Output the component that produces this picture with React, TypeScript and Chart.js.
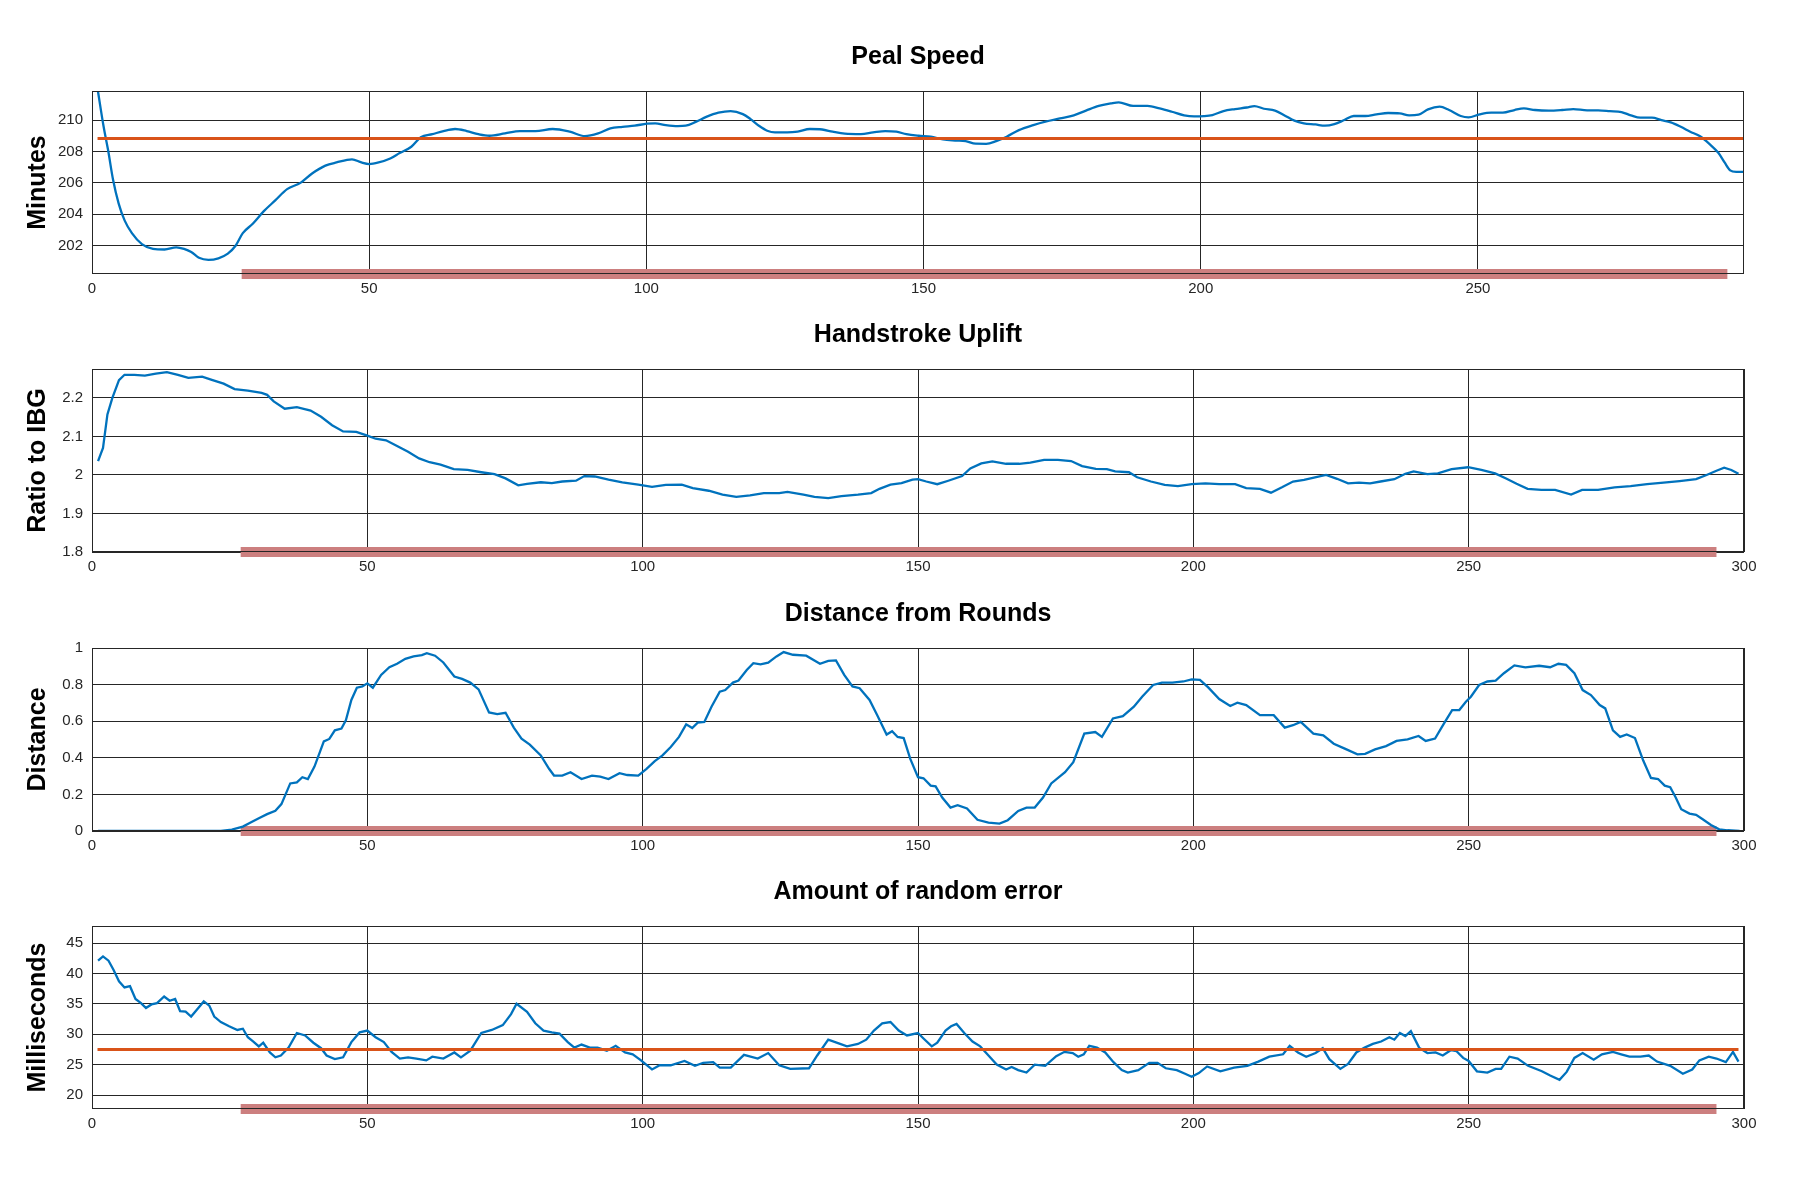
import { useEffect, useRef } from "react"
import { Chart, registerables } from "chart.js"

Chart.register(...registerables)

const FONT = "'Liberation Sans', Arial, Helvetica, sans-serif"
const GRID = "#262626"
const BLUE = "#0072BD"
const ORANGE = "#D95319"
const BAND = "#cc7f7f"

// run of the peal that the band marks
const bandStart = 27
const bandEnd = 295

const pealXTicks = [0, 50, 100, 150, 200, 250]
const xTicks = [0, 50, 100, 150, 200, 250, 300]
const pealYTicks = [202, 204, 206, 208, 210]
const upliftYTicks = [1.8, 1.9, 2, 2.1, 2.2]
const distYTicks = [0, 0.2, 0.4, 0.6, 0.8, 1]
const errorYTicks = [20, 25, 30, 35, 40, 45]

// Peal Speed
const pealX = [
  1, 2.1, 2.9, 3.8, 4.8, 5.9, 7.2, 9, 11, 13.1, 15.2, 16.6, 17.9, 19.3, 21, 22.8, 24.5, 25.9,
  27.2, 29, 31, 33.1, 35.2, 37.6, 39.7, 42.1, 44.1, 46.9, 48.6, 50, 51.7, 53.8, 55.5, 57.6,
  59.3, 61.4, 63.4, 65.5, 67.6, 69.7, 71.7, 74.5, 77.2, 80, 83.1, 86.2, 88.9, 91.3, 93.5,
  95.7, 97.9, 100.1, 101.6, 103.5, 105.7, 107.1, 109, 110.8, 113, 115.2, 117.4, 118.8, 120.3,
  121.8, 123.2, 125.4, 127.3, 129.5, 131.7, 133.6, 135.8, 138.7, 140.9, 143.1, 145.1, 146.9,
  149.1, 151.3, 153.5, 155.7, 157.6, 159.4, 161.3, 163.1, 165, 167.2, 169.8, 172, 174.6,
  177.1, 179.3, 181.6, 183.8, 185.2, 187.8, 190.4, 192.6, 194.8, 197, 198.8, 200.6, 202.1,
  204.1, 206.2, 208.3, 209.7, 211.4, 213.4, 215.2, 216.9, 218.6, 220.7, 222.4, 224.1, 225.9,
  227.6, 229.7, 231.7, 233.8, 235.9, 237.6, 239.3, 241, 243.1, 244.8, 246.9, 248.3, 250.3,
  252.4, 254.5, 256.6, 258.3, 260.3, 262.8, 265.2, 267.2, 269.7, 271.7, 273.8, 275.9, 277.6,
  279.3, 281.4, 283.1, 284.8, 286.6, 288.3, 290, 291.7, 293.4, 294.5, 295.5, 296.6, 297.9
]
const pealY = [
  212.0, 209.57, 208.09, 206.2, 204.7, 203.6, 202.8, 202.1, 201.8, 201.76, 201.9, 201.8,
  201.6, 201.23, 201.1, 201.2, 201.5, 202.0, 202.8, 203.4, 204.2, 204.9, 205.6, 206.0, 206.6,
  207.1, 207.3, 207.5, 207.3, 207.2, 207.3, 207.55, 207.9, 208.3, 208.9, 209.1, 209.3, 209.43,
  209.3, 209.1, 209.0, 209.15, 209.3, 209.3, 209.43, 209.26, 208.98, 209.15, 209.47, 209.57,
  209.64, 209.77, 209.79, 209.68, 209.62, 209.64, 209.9, 210.2, 210.47, 210.57, 210.38,
  210.06, 209.64, 209.32, 209.21, 209.21, 209.26, 209.43, 209.4, 209.26, 209.13, 209.1,
  209.21, 209.3, 209.26, 209.1, 209.0, 208.94, 208.77, 208.7, 208.66, 208.5, 208.49, 208.66,
  208.94, 209.36, 209.68, 209.9, 210.1, 210.3, 210.6, 210.9, 211.06, 211.13, 210.9, 210.9,
  210.74, 210.53, 210.3, 210.23, 210.25, 210.32, 210.57, 210.7, 210.8, 210.89, 210.72, 210.6,
  210.28, 209.96, 209.79, 209.72, 209.64, 209.74, 210.0, 210.26, 210.26, 210.36, 210.45,
  210.43, 210.3, 210.34, 210.68, 210.85, 210.64, 210.26, 210.17, 210.36, 210.47, 210.47,
  210.64, 210.74, 210.64, 210.6, 210.64, 210.7, 210.62, 210.62, 210.57, 210.51, 210.3, 210.15,
  210.15, 210.0, 209.85, 209.57, 209.26, 208.98, 208.5, 207.9, 207.3, 206.8, 206.7, 206.7
]
const pealMean = 208.83

// Handstroke Uplift
const upliftX = [
  1.1, 2, 2.8, 3.7, 4.9, 5.9, 7.7, 9.6, 11.6, 13.6, 15.6, 17.5, 20, 21.9, 23.9, 25.9, 28.3,
  30.8, 31.8, 33, 35, 37.2, 39.7, 41.6, 43.6, 45.6, 48, 50, 51.5, 53.4, 55.4, 57.4, 59.4, 61.3,
  63.3, 65.7, 68.2, 70.7, 73.1, 75.1, 77.4, 79, 81.5, 83.5, 85.4, 87.9, 89.4, 91.3, 93.8, 96.3,
  99.2, 101.7, 104.2, 107.1, 109.1, 112, 114.5, 117, 119.5, 122, 124.8, 126.3, 129.2, 131.2,
  133.7, 136.1, 139.1, 141.5, 143, 145, 147, 149, 150, 151.5, 153.5, 155.5, 158, 159.5, 161.5,
  163.5, 166, 168.4, 170.4, 172.9, 175.4, 177.8, 179.8, 182.3, 184.3, 185.8, 188.3, 189.8,
  192.3, 194.8, 197.2, 199.7, 202.2, 204.7, 207.6, 209.6, 212.1, 214.1, 216.1, 218.1, 220.1,
  222.1, 224.1, 226.1, 228.1, 230.1, 232.1, 234, 236.5, 238.5, 240, 242.5, 244.4, 246.9, 249.9,
  252.3, 254.8, 256.8, 258.7, 260.7, 263.2, 265.7, 268.6, 270.6, 273.5, 276.5, 279.4, 282.4,
  285.4, 288.3, 291.3, 293.2, 295, 296.4, 297.7, 299
]
const upliftY = [
  2.036, 2.07, 2.157, 2.2, 2.246, 2.26, 2.26, 2.258, 2.263, 2.267, 2.26, 2.252, 2.255, 2.246,
  2.237, 2.223, 2.219, 2.213, 2.208, 2.191, 2.172, 2.176, 2.167, 2.151, 2.129, 2.113, 2.112,
  2.102, 2.094, 2.09, 2.075, 2.06, 2.043, 2.033, 2.027, 2.015, 2.013, 2.007, 2.002, 1.991,
  1.973, 1.977, 1.981, 1.979, 1.983, 1.985, 1.997, 1.996, 1.988, 1.981, 1.975, 1.969, 1.974,
  1.975, 1.966, 1.959, 1.949, 1.943, 1.947, 1.953, 1.953, 1.956, 1.949, 1.943, 1.94, 1.945,
  1.949, 1.953, 1.964, 1.975, 1.979, 1.988, 1.989, 1.983, 1.976, 1.985, 1.997, 2.017, 2.03,
  2.035, 2.029, 2.029, 2.032, 2.039, 2.039, 2.036, 2.023, 2.016, 2.015, 2.009, 2.007, 1.994,
  1.983, 1.974, 1.971, 1.976, 1.978, 1.976, 1.976, 1.966, 1.964, 1.954, 1.968, 1.983, 1.987,
  1.994, 2.0, 1.99, 1.978, 1.98, 1.978, 1.983, 1.989, 2.003, 2.009, 2.002, 2.004, 2.015, 2.02,
  2.013, 2.004, 1.991, 1.977, 1.964, 1.961, 1.961, 1.949, 1.961, 1.961, 1.968, 1.971, 1.976,
  1.98, 1.984, 1.989, 2.0, 2.011, 2.019, 2.013, 2.003
]

// Distance from Rounds
const distX = [
  1.1, 23.4, 25.4, 27.4, 28.8, 30.3, 31.8, 33.3, 34.4, 36, 37.2, 38.2, 39.2, 40.4, 42.1, 43.1,
  44.1, 45.3, 46.1, 47.1, 48.1, 49.1, 50, 51, 52.5, 54, 55.4, 56.9, 58.4, 59.9, 60.8, 62.3,
  63.8, 65.8, 67.2, 68.7, 70.2, 72.1, 73.6, 75.1, 76.6, 78, 79.5, 81.5, 83, 83.9, 85.4, 86.9,
  88.9, 90.8, 92.3, 93.8, 95.8, 97.2, 99.2, 100.7, 102.2, 103.6, 105.1, 106.6, 107.9, 109, 110,
  111.2, 112.5, 114, 115, 116.4, 117.4, 118.9, 120.1, 121.4, 122.8, 124.3, 125.6, 127.3, 129.7,
  132.2, 133.7, 135.1, 136.6, 138.1, 139.4, 141.2, 142.6, 144.3, 145.3, 146.3, 147.4, 148.6,
  150, 151, 152.3, 153.2, 154.4, 155.9, 157.2, 158.9, 160.8, 162.8, 164.8, 166.3, 168.2, 169.7,
  171.2, 172.7, 174.2, 176.7, 178.2, 180.2, 182.2, 183.4, 185.4, 187.2, 189.2, 190.7, 192.7,
  194.3, 196.2, 198.2, 199.7, 201.2, 202.7, 204.7, 206.7, 208, 209.6, 212.1, 214.6, 216.6,
  218.1, 219.5, 221.8, 223.6, 225.5, 227.5, 229.8, 231.2, 233, 235, 236.9, 238.9, 240.9, 242.2,
  243.9, 245.5, 247, 248.3, 249.5, 250.4, 251.9, 253.4, 254.9, 256.4, 258.3, 260.3, 262.8,
  264.8, 266.3, 267.7, 269.2, 270.7, 272.2, 273.8, 274.8, 276.2, 277.5, 278.7, 280.2, 281.7,
  283.1, 284.4, 285.6, 286.6, 287.6, 288.6, 290.1, 291.3, 292.5, 294, 295.5, 297, 299.2
]
const distY = [
  0, 0, 0.007, 0.024, 0.046, 0.07, 0.092, 0.11, 0.147, 0.26, 0.266, 0.294, 0.284, 0.352, 0.49,
  0.503, 0.55, 0.56, 0.605, 0.716, 0.783, 0.79, 0.807, 0.783, 0.853, 0.895, 0.914, 0.941,
  0.954, 0.961, 0.972, 0.958, 0.921, 0.844, 0.831, 0.811, 0.774, 0.648, 0.639, 0.646, 0.565,
  0.505, 0.472, 0.413, 0.34, 0.303, 0.303, 0.321, 0.284, 0.303, 0.297, 0.284, 0.316, 0.306,
  0.303, 0.34, 0.382, 0.413, 0.459, 0.514, 0.583, 0.563, 0.592, 0.596, 0.679, 0.761, 0.77,
  0.811, 0.822, 0.88, 0.917, 0.911, 0.92, 0.954, 0.978, 0.963, 0.958, 0.914, 0.93, 0.932,
  0.853, 0.79, 0.78, 0.716, 0.633, 0.527, 0.545, 0.514, 0.508, 0.394, 0.294, 0.288, 0.248,
  0.244, 0.183, 0.128, 0.141, 0.123, 0.061, 0.046, 0.04, 0.059, 0.11, 0.128, 0.128, 0.183,
  0.26, 0.321, 0.376, 0.532, 0.541, 0.514, 0.615, 0.628, 0.679, 0.734, 0.798, 0.811, 0.811,
  0.817, 0.829, 0.826, 0.785, 0.721, 0.683, 0.701, 0.688, 0.633, 0.633, 0.565, 0.578, 0.596,
  0.532, 0.523, 0.477, 0.45, 0.419, 0.422, 0.446, 0.464, 0.492, 0.501, 0.519, 0.492, 0.505,
  0.587, 0.661, 0.661, 0.706, 0.734, 0.798, 0.817, 0.822, 0.862, 0.905, 0.894, 0.903, 0.895,
  0.914, 0.908, 0.862, 0.77, 0.743, 0.688, 0.67, 0.55, 0.514, 0.528, 0.508, 0.385, 0.29,
  0.284, 0.248, 0.239, 0.183, 0.119, 0.095, 0.088, 0.064, 0.033, 0.009, 0.004, 0
]

// Amount of random error
const errorX = [
  1.1, 2, 3, 3.9, 4.9, 5.9, 6.9, 7.9, 8.9, 9.8, 10.8, 11.8, 13.1, 14.1, 15.1, 16, 17, 18, 19,
  20.3, 21.3, 22.2, 23.4, 24.9, 26.4, 27.4, 28.3, 29.3, 30.3, 31.1, 32.3, 33.3, 34.3, 35.7,
  37.2, 38.7, 40.2, 41.6, 42.6, 44.1, 45.6, 47.1, 48.6, 50, 51.5, 53, 54.4, 55.9, 57.4, 58.9,
  60.7, 61.8, 63.8, 65.8, 67, 68.7, 70.7, 72.6, 74.6, 76.1, 77.1, 79, 80.5, 82, 83.5, 84.9,
  86.4, 87.6, 88.9, 90.4, 91.8, 93.5, 95.1, 96.8, 98.2, 99.7, 101.7, 103.1, 105.1, 107.6,
  109.5, 111, 112.8, 114, 116, 118.4, 120.9, 122.8, 124.8, 126.8, 130.2, 131.7, 133.7, 135.6,
  137.1, 139.1, 140.6, 142, 143.5, 145, 146.5, 148, 150, 151, 152.5, 153.5, 155, 156, 157,
  158.4, 159.9, 161.3, 162.8, 164.3, 166, 167, 168.2, 169.7, 171.2, 173.1, 175.1, 176.6, 178.1,
  179.1, 180.1, 181.1, 182.5, 184, 185.5, 187, 188.1, 190, 192, 193.5, 195, 197, 198.5, 199.7,
  201, 202.5, 204.9, 207.4, 209.8, 211.8, 213.8, 216.3, 217.5, 219, 220.5, 222.2, 223.5, 224.7,
  226.7, 228.1, 229.6, 231.1, 232.6, 234.1, 235.6, 236.5, 237.5, 238.5, 239.5, 241, 242.5,
  244, 245.3, 246.8, 247.8, 249, 250, 251.5, 253.4, 254.9, 255.9, 257.4, 258.9, 260.8, 263.3,
  264.8, 266.5, 267.8, 269.2, 270.7, 272.7, 274.2, 276.2, 277.7, 279.2, 281.2, 282.7, 284.2,
  286.6, 288.9, 290.6, 291.9, 293.6, 295, 296.7, 298, 299
]
const errorY = [
  42.1, 42.8, 42.1, 40.6, 38.7, 37.7, 37.9, 35.8, 35.1, 34.3, 34.9, 35.1, 36.2, 35.5, 35.8,
  33.8, 33.7, 32.9, 34.0, 35.4, 34.7, 32.9, 32.0, 31.3, 30.7, 30.9, 29.5, 28.8, 28.0, 28.6,
  27.0, 26.2, 26.5, 27.8, 30.2, 29.8, 28.6, 27.7, 26.5, 25.9, 26.2, 28.7, 30.3, 30.6, 29.5,
  28.7, 27.1, 26.0, 26.2, 26.0, 25.7, 26.3, 26.0, 27.0, 26.2, 27.3, 30.2, 30.7, 31.5, 33.3,
  35.0, 33.7, 31.8, 30.6, 30.3, 30.1, 28.7, 27.8, 28.3, 27.8, 27.8, 27.3, 28.1, 27.0, 26.7,
  25.7, 24.2, 24.9, 24.9, 25.6, 24.8, 25.3, 25.4, 24.5, 24.5, 26.6, 26.0, 26.9, 24.9, 24.3,
  24.4, 26.5, 29.1, 28.5, 28.0, 28.4, 29.1, 30.6, 31.8, 32.0, 30.6, 29.8, 30.2, 29.3, 28.0,
  28.6, 30.6, 31.3, 31.7, 30.2, 28.8, 28.0, 26.5, 25.0, 24.2, 24.6, 24.1, 23.7, 25.0, 24.8,
  26.4, 27.1, 26.9, 26.3, 26.7, 28.1, 27.8, 27.0, 25.4, 24.1, 23.7, 24.1, 25.3, 25.3, 24.4,
  24.1, 23.5, 23.0, 23.6, 24.7, 23.9, 24.5, 24.8, 25.5, 26.3, 26.7, 28.1, 27.0, 26.3, 26.9,
  27.7, 25.9, 24.3, 25.1, 27.0, 27.8, 28.4, 28.8, 29.5, 29.1, 30.2, 29.7, 30.5, 27.8, 26.9,
  27.0, 26.5, 27.4, 27.2, 26.1, 25.6, 23.9, 23.7, 24.3, 24.3, 26.3, 26.0, 24.8, 23.9, 23.2,
  22.5, 23.8, 26.1, 26.9, 25.8, 26.7, 27.1, 26.7, 26.3, 26.3, 26.5, 25.5, 24.8, 23.5, 24.2,
  25.7, 26.3, 26.0, 25.4, 27.1, 25.5
]
const errorMean = 27.5

type PanelProps = {
  title: string
  yTitle: string
  xs: number[]
  ys: number[]
  xMax: number
  xTickValues: number[]
  yMin: number
  yMax: number
  yTickValues: number[]
  mean?: number
  meanFrom?: number
  meanTo?: number
  smooth?: boolean
  top: number
}

// box round the plot, drawn over the data like the axes in the original
const boxPlugin = {
  id: "plotBox",
  afterDatasetsDraw(chart: Chart) {
    const { ctx, chartArea } = chart
    const l = Math.round(chartArea.left) + 0.5
    const t = Math.round(chartArea.top) + 0.5
    const r = Math.round(chartArea.right) - 0.5
    const b = Math.round(chartArea.bottom) - 0.5
    ctx.save()
    ctx.strokeStyle = GRID
    ctx.lineWidth = 1
    ctx.strokeRect(l, t, r - l, b - t)
    ctx.restore()
  }
}

const fmt = (v: number | string) => String(Number(Number(v).toFixed(3)))

const Panel = (p: PanelProps) => {
  const chartRef = useRef<HTMLCanvasElement>(null)

  useEffect(() => {
    if (!chartRef.current) return
    const ctx = chartRef.current.getContext("2d")
    if (!ctx) return

    const datasets: any[] = []
    if (p.mean !== undefined) {
      datasets.push({
        data: [
          { x: p.meanFrom, y: p.mean },
          { x: p.meanTo, y: p.mean }
        ],
        borderColor: ORANGE,
        borderWidth: 3,
        pointRadius: 0
      })
    }
    datasets.push({
      data: p.xs.map((x, i) => ({ x, y: p.ys[i] })),
      borderColor: BLUE,
      borderWidth: 2.3,
      pointRadius: 0,
      cubicInterpolationMode: p.smooth ? "monotone" : "default",
      tension: 0
    })
    datasets.push({
      data: [
        { x: bandStart, y: p.yMin },
        { x: bandEnd, y: p.yMin }
      ],
      borderColor: BAND,
      borderWidth: 10,
      pointRadius: 0,
      clip: false
    })

    const chart = new Chart(ctx, {
      type: "line",
      data: { datasets },
      plugins: [boxPlugin],
      options: {
        animation: false,
        responsive: true,
        maintainAspectRatio: false,
        layout: { padding: { left: 0, right: 56, top: 0, bottom: 0 } },
        plugins: {
          legend: { display: false },
          tooltip: { enabled: false },
          title: {
            display: true,
            fullSize: false,
            text: p.title,
            color: "#000",
            font: { family: FONT, size: 25, weight: "bold" },
            padding: { top: 0, bottom: 19 }
          }
        },
        scales: {
          x: {
            type: "linear",
            min: 0,
            max: p.xMax,
            afterBuildTicks: (s: any) => {
              s.ticks = p.xTickValues.map((value) => ({ value }))
            },
            border: { display: false },
            grid: { color: GRID, lineWidth: 1, drawTicks: false },
            ticks: {
              autoSkip: false,
              maxRotation: 0,
              padding: 6,
              color: "#262626",
              font: { family: FONT, size: 15 },
              callback: fmt
            }
          },
          y: {
            type: "linear",
            min: p.yMin,
            max: p.yMax,
            afterBuildTicks: (s: any) => {
              s.ticks = p.yTickValues.map((value) => ({ value }))
            },
            afterFit: (s: any) => {
              s.width = 92
            },
            border: { display: false },
            grid: { color: GRID, lineWidth: 1, drawTicks: false },
            ticks: {
              autoSkip: false,
              padding: 9,
              color: "#262626",
              font: { family: FONT, size: 15 },
              callback: fmt
            },
            title: {
              display: true,
              text: p.yTitle,
              color: "#000",
              font: { family: FONT, size: 25, weight: "bold" },
              padding: { top: 23, bottom: 0 }
            }
          }
        }
      }
    })

    return () => {
      chart.destroy()
    }
  }, [])

  return (
    <div style={{ position: "absolute", left: 0, top: p.top, width: 1800, height: 262 }}>
      <canvas ref={chartRef}></canvas>
    </div>
  )
}

const App = () => {
  return (
    <div
      style={{
        position: "fixed",
        left: 0,
        top: 0,
        width: 1800,
        height: 1200,
        background: "#fff"
      }}
    >
      <Panel
        title="Peal Speed"
        yTitle="Minutes"
        xs={pealX}
        ys={pealY}
        xMax={298}
        xTickValues={pealXTicks}
        yMin={200.2}
        yMax={211.85}
        yTickValues={pealYTicks}
        mean={pealMean}
        meanFrom={1}
        meanTo={298}
        smooth
        top={42}
      />
      <Panel
        title="Handstroke Uplift"
        yTitle="Ratio to IBG"
        xs={upliftX}
        ys={upliftY}
        xMax={300}
        xTickValues={xTicks}
        yMin={1.8}
        yMax={2.275}
        yTickValues={upliftYTicks}
        top={320}
      />
      <Panel
        title="Distance from Rounds"
        yTitle="Distance"
        xs={distX}
        ys={distY}
        xMax={300}
        xTickValues={xTicks}
        yMin={0}
        yMax={1}
        yTickValues={distYTicks}
        top={599}
      />
      <Panel
        title="Amount of random error"
        yTitle="Milliseconds"
        xs={errorX}
        ys={errorY}
        xMax={300}
        xTickValues={xTicks}
        yMin={17.7}
        yMax={47.8}
        yTickValues={errorYTicks}
        mean={errorMean}
        meanFrom={1}
        meanTo={299}
        top={877}
      />
    </div>
  )
}

export default App
